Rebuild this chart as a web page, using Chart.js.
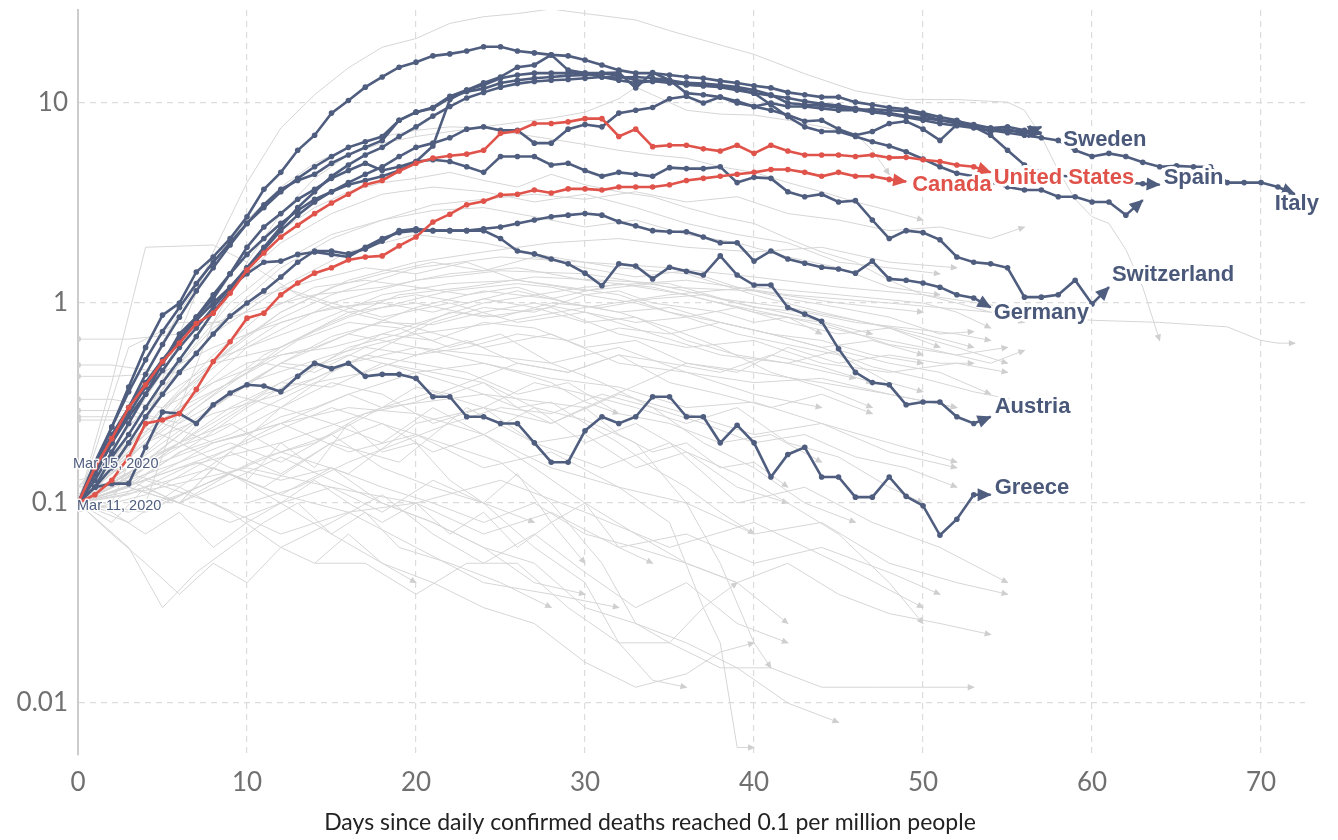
<!DOCTYPE html>
<html><head><meta charset="utf-8">
<script src="https://cdn.jsdelivr.net/npm/chart.js@4"></script>
<style>html,body{margin:0;padding:0;background:#fff}#wrap{width:1338px;height:840px}</style>
</head><body><div id="wrap"><canvas id="c" width="1338" height="840"></canvas></div>
<script>
// ---------- DATA ----------
const xTickValues = [0, 10, 20, 30, 40, 50, 60, 70];
const yTickValues = [0.01, 0.1, 1, 10];
const yTickLabels = ['0.01', '0.1', '1', '10'];
const xTitle = 'Days since daily confirmed deaths reached 0.1 per million people';
const startLabels = ['Mar 15, 2020', 'Mar 11, 2020'];
const startLabelValues = [0.157, 0.097];

// highlighted countries: value per day since threshold (day = index)
const unitedStates = [0.1,0.15,0.21,0.3,0.39,0.51,0.63,0.79,0.89,1.12, 1.46,1.78,2.14,2.45,2.8,3.16,3.5,3.9,4.1,4.57, 5.0,5.3,5.45,5.55,5.8,7.05,7.25,7.9,7.9,8.05, 8.35,8.35,6.8,7.4,6.05,6.15,6.15,5.9,5.75,6.15, 5.6,6.15,5.75,5.5,5.5,5.5,5.4,5.5,5.33,5.35, 5.2,5.1,4.9,4.8,4.5];
const canada = [0.1,0.11,0.13,0.17,0.25,0.26,0.28,0.37,0.51,0.64, 0.84,0.89,1.1,1.26,1.41,1.5,1.64,1.7,1.72,1.93, 2.14,2.54,2.78,3.1,3.23,3.47,3.5,3.67,3.55,3.72, 3.72,3.67,3.8,3.8,3.8,3.9,4.1,4.2,4.3,4.4, 4.5,4.65,4.65,4.5,4.3,4.5,4.3,4.3,4.15,4.05];
const spain = [0.1,0.15,0.24,0.38,0.6,0.87,1.0,1.43,1.7,2.1, 2.7,3.7,4.5,5.8,6.9,8.9,10.3,12,13.5,15.1, 16,17.2,17.6,18.2,19.1,19.1,18.2,17.8,17.4,17.2, 16.4,15.5,14.6,14.1,14.1,13.8,13.5,13.3,12.9,12.6, 12.2,11.9,11.3,11.0,10.7,10.7,10.1,9.8,9.5,9.3, 8.9,8.5,8.2,7.6,6.9,5.8,4.9,4.5,4.35,4.25, 4.15,4.05,4.0,3.95,3.9];
const italy = [0.1,0.12,0.17,0.22,0.3,0.4,0.52,0.68,0.9,1.15, 1.5,1.9,2.4,3.0,3.6,4.3,4.9,5.5,6.0,6.8, 7.6,8.6,9.6,10.6,11.3,12.0,12.5,12.8,13.0,13.1, 13.3,13.5,13.4,13.5,13.3,13.0,12.6,12.5,12.3,12.0, 11.6,11.0,10.0,9.8,9.7,9.5,9.3,9.0,8.8,8.5, 8.2,7.9,7.7,7.5,7.3,7.1,6.9,6.7,6.5,5.8, 5.4,5.6,5.4,5.05,4.8,4.85,4.8,4.8,4.0,4.0, 4.0,3.8,3.5];
const sweden = [0.1,0.14,0.2,0.27,0.35,0.46,0.6,0.75,0.95,1.2, 1.5,1.85,2.3,2.75,3.2,3.6,4.0,4.4,4.8,5.4, 6.0,6.3,6.7,7.4,7.6,7.3,7.3,6.3,6.3,7.4, 7.8,7.6,8.9,9.2,9.5,10.5,10.8,10.0,10.7,10.0, 9.6,10.0,9.6,9.6,9.4,9.2,9.2,9.3,9.2,9.1, 8.7,8.2,8.1,7.8,7.5,7.3,7.2,7.1];
const france = [0.1,0.13,0.18,0.25,0.35,0.5,0.7,0.85,1.05,1.4, 1.9,2.4,2.8,3.3,3.7,4.2,4.6,5.0,4.6,4.8, 5.1,6.1,10.4,11.6,12.6,13.5,15.1,15.5,17.4,14.6, 14.1,14.1,14.2,11.9,14.2,13.0,11.2,11.0,10.7,10.2, 9.6,9.2,8.7,8.1,8.2,7.4,6.9,7.2,7.9,8.1, 7.4,6.5,7.8,7.6,7.2,7.4,7.0,7.6];
const unitedKingdom = [0.1,0.14,0.2,0.3,0.44,0.62,0.85,1.15,1.5,1.95, 2.5,3.1,3.7,4.1,4.4,5.0,5.5,6.0,6.5,8.2, 9.0,9.5,10.8,11.6,12.3,13.3,13.8,14.1,14.1,14.1, 14.1,13.5,13.0,12.6,12.9,12.6,12.4,12.2,12.0,11.6, 11.2,10.9,10.6,10.2,9.9,9.7,9.4,9.1,8.9,8.6, 8.4,8.2,7.9,7.7,7.5,7.6,7.3,7.0];
const netherlands = [0.1,0.16,0.24,0.36,0.52,0.72,0.95,1.25,1.6,2.0, 2.5,3.0,3.6,4.2,4.8,5.4,6.0,6.4,6.8,8.2, 9.0,9.4,10.6,11.4,11.8,12.6,13.0,13.3,13.5,13.7, 13.8,14.1,13.7,13.0,12.8,13.0,12.3,12.2,12.1,11.8, 11.2,9.8,8.55,7.6,7.2,7.2,6.8,6.4,6.1,5.7, 5.25,4.8,4.45,4.3,4.0,3.8,3.67,3.67,3.4,3.4, 3.2,3.2,2.75,3.27];
const switzerland = [0.1,0.14,0.2,0.28,0.38,0.5,0.66,0.85,1.1,1.4, 1.75,2.1,2.5,2.9,3.3,3.6,3.9,4.1,4.3,4.6, 5.1,5.2,5.1,4.8,4.5,5.4,5.4,5.4,4.9,5.0, 4.6,4.3,4.5,4.4,4.3,4.75,4.7,4.7,4.8,4.0, 4.25,4.2,3.6,3.4,3.5,3.2,3.25,2.6,2.1,2.3, 2.25,2.07,1.7,1.6,1.57,1.5,1.07,1.07,1.1,1.3, 0.99,1.2];
const germany = [0.1,0.12,0.15,0.2,0.27,0.35,0.45,0.56,0.7,0.86, 1.0,1.15,1.35,1.6,1.82,1.82,1.76,1.86,2.04,2.3, 2.35,2.3,2.3,2.3,2.35,2.4,2.5,2.6,2.7,2.75, 2.8,2.75,2.55,2.43,2.3,2.27,2.27,2.14,2.0,2.0, 1.62,1.82,1.66,1.58,1.51,1.48,1.41,1.62,1.32,1.3, 1.26,1.2,1.1,1.06,0.95];
const austria = [0.1,0.15,0.22,0.3,0.4,0.52,0.66,0.82,1.0,1.2, 1.4,1.6,1.62,1.75,1.8,1.75,1.7,1.9,2.1,2.25, 2.3,2.3,2.3,2.3,2.3,2.1,1.82,1.76,1.66,1.57, 1.41,1.22,1.57,1.53,1.32,1.51,1.44,1.38,1.72,1.38, 1.23,1.23,0.95,0.88,0.81,0.59,0.45,0.40,0.39,0.31, 0.32,0.32,0.27,0.25,0.27];
const greece = [0.1,0.12,0.125,0.125,0.19,0.285,0.28,0.25,0.31,0.355, 0.39,0.385,0.36,0.43,0.5,0.47,0.5,0.43,0.44,0.44, 0.42,0.34,0.34,0.27,0.27,0.25,0.25,0.2,0.16,0.16, 0.23,0.27,0.25,0.27,0.34,0.34,0.27,0.27,0.2,0.245, 0.2,0.135,0.175,0.19,0.135,0.135,0.107,0.107,0.135,0.108, 0.097,0.069,0.083,0.11,0.11];

// other countries (grey): [day, value] readings
const grey01 = [[2,0.1],[4,0.25],[6,0.7],[8,1.8],[10,4],[12,7.5],[14,11],[16,15],[18,19],[20,21],[22,25],[24,27],[26,28],[28,29.5],[30,28],[33,26],[35,23],[38,19.5],[40,17.5],[43,14],[46,11.5],[49,10.4],[52,10.4],[55,10.1],[56,9.2],[57,6.8],[58,4.6],[59,3.3],[60,2.7],[61,2.5],[62,1.85],[63,1.2],[64,0.65]];
const grey02 = [[0,0.1],[3,0.2],[6,0.5],[9,1.0],[12,1.6],[15,2.2],[18,2.6],[21,2.9],[24,3.0],[27,2.7],[30,2.4],[33,2.6],[36,2.2],[39,2.0],[42,1.7],[45,1.5],[48,1.2],[51,1.1]];
const grey03 = [[0,0.12],[4,0.3],[8,0.7],[12,1.2],[16,1.8],[20,2.2],[24,2.0],[28,1.7],[32,1.5],[36,1.4],[40,1.1],[44,0.9],[48,0.75],[52,0.6],[55,0.5]];
const grey04 = [[0,0.1],[5,0.25],[10,0.6],[15,1.0],[20,1.3],[25,1.45],[30,1.4],[35,1.2],[40,1.15],[45,1.0],[50,0.9]];
const grey05 = [[0,0.13],[3,0.15],[7,0.3],[11,0.55],[15,0.8],[19,1.1],[23,1.2],[27,1.35],[31,1.3],[35,1.25],[39,1.0],[43,0.85],[47,0.7]];
const grey06 = [[0,0.1],[6,0.2],[12,0.4],[18,0.7],[24,1.0],[30,1.2],[36,1.3],[42,1.1],[48,1.0],[54,0.9],[60,0.82],[64,0.8],[68,0.76],[70,0.65],[71,0.63],[72,0.63]];
const grey07 = [[0,0.1],[2,0.15],[5,0.3],[8,0.55],[11,0.9],[14,1.2],[17,1.3],[20,1.2],[23,1.1],[26,1.2],[29,1.0],[32,0.9],[35,0.75],[38,0.6],[41,0.45],[44,0.38],[47,0.3]];
const grey08 = [[0,0.11],[4,0.2],[8,0.28],[12,0.35],[16,0.5],[20,0.6],[24,0.55],[28,0.5],[32,0.6],[36,0.45],[40,0.4],[44,0.42],[48,0.35],[52,0.3]];
const grey09 = [[0,0.1],[2,0.08],[4,0.12],[6,0.1],[8,0.15],[10,0.13],[12,0.2],[14,0.15],[16,0.25],[18,0.18],[20,0.2],[22,0.13],[24,0.1],[26,0.14],[28,0.08],[30,0.1],[32,0.06],[34,0.05]];
const grey10 = [[0,0.1],[4,0.15],[8,0.2],[12,0.25],[16,0.3],[20,0.28],[24,0.22],[28,0.15],[32,0.12],[35,0.08],[37,0.03],[38,0.02],[39,0.006],[40,0.006]];
const grey11 = [[0,0.1],[3,0.12],[6,0.18],[9,0.22],[12,0.3],[15,0.25],[18,0.2],[21,0.3],[24,0.22],[27,0.15],[30,0.1],[33,0.07],[36,0.05],[39,0.04],[42,0.025]];
const grey12 = [[14,0.05],[17,0.05],[20,0.035],[23,0.05],[26,0.05],[29,0.03],[32,0.02],[35,0.02],[38,0.015],[41,0.015],[44,0.012],[47,0.012],[50,0.012],[53,0.012]];
const grey13 = [[0,0.1],[3,0.14],[6,0.12],[9,0.18],[12,0.14],[15,0.2],[18,0.25],[21,0.18],[24,0.22],[27,0.3],[30,0.2],[33,0.25],[36,0.18],[39,0.14],[42,0.1],[45,0.07],[48,0.04],[50,0.025]];
const grey14 = [[0,0.1],[2,0.16],[5,0.4],[8,0.75],[11,1.1],[14,1.3],[17,1.5],[20,1.4],[23,1.6],[26,1.3],[29,1.2],[32,1.1],[35,0.9],[38,0.8],[41,0.7],[44,0.6],[47,0.48],[50,0.42],[53,0.36],[56,0.32],[58,0.28]];
const grey15 = [[0,0.12],[3,0.2],[6,0.35],[9,0.55],[12,0.8],[15,0.95],[18,1.0],[21,0.9],[24,1.05],[27,0.95],[30,0.8],[33,0.85],[36,0.65],[39,0.55],[42,0.5],[45,0.58],[48,0.5],[51,0.45],[54,0.35]];
const grey16 = [[0,0.09],[4,0.11],[8,0.17],[12,0.25],[16,0.35],[20,0.45],[24,0.5],[28,0.42],[32,0.38],[36,0.3],[40,0.32],[44,0.25],[48,0.2],[52,0.16]];
const grey17 = [[0,0.1],[3,0.25],[6,0.6],[9,1.2],[12,2.0],[15,2.8],[18,3.5],[21,3.8],[24,3.6],[27,3.2],[30,3.5],[33,3.0],[36,2.5],[39,2.2],[42,2.0],[45,1.6],[48,1.5],[51,1.4]];
const grey18 = [[0,0.1],[2,0.2],[4,0.45],[6,0.9],[8,1.6],[10,2.6],[12,3.8],[14,5.0],[16,6.0],[18,6.8],[20,7.3],[22,7.6],[24,7.5],[26,7.0],[28,6.6],[30,6.2],[32,5.8],[34,5.5],[36,5.3],[38,4.8],[40,4.5],[42,4.0],[44,3.6],[46,3.2],[48,2.9],[50,2.6]];
const grey19 = [[0,0.1],[5,0.12],[10,0.15],[15,0.12],[20,0.1],[25,0.13],[30,0.09],[35,0.06],[40,0.08],[45,0.05],[50,0.03]];
const grey20 = [[0,0.1],[3,0.13],[6,0.1],[9,0.08],[12,0.1],[15,0.07],[18,0.05],[21,0.04],[24,0.03],[27,0.025],[30,0.016],[33,0.012],[36,0.014],[38,0.018],[40,0.02]];
const grey21 = [[4,0.3],[8,0.5],[12,0.6],[16,0.9],[20,1.0],[24,0.85],[28,0.95],[32,0.7],[36,0.6],[40,0.65],[44,0.5],[48,0.45],[52,0.5],[55,0.45]];
const grey22 = [[0,0.43],[2,0.43],[6,0.45],[10,0.6],[14,0.8],[18,1.1],[22,1.25],[26,1.3],[30,1.15],[34,1.25],[38,1.05],[42,0.95],[46,0.82],[50,0.7],[53,0.6]];
const grey23 = [[0,0.66],[3,0.66],[6,0.7],[10,0.9],[14,1.1],[18,1.2],[22,1.4],[26,1.5],[30,1.3],[34,1.2],[38,1.0],[42,0.85],[46,0.7],[50,0.6],[54,0.5],[56,0.58]];
const grey24 = [[0,0.33],[2,0.33],[5,0.3],[8,0.4],[11,0.5],[14,0.45],[17,0.6],[20,0.55],[23,0.65],[26,0.5],[29,0.45],[32,0.55],[35,0.4],[38,0.35],[41,0.3],[44,0.35],[47,0.28]];
const grey25 = [[0,0.29],[3,0.29],[6,0.25],[9,0.35],[12,0.3],[15,0.4],[18,0.35],[21,0.25],[24,0.3],[27,0.2],[30,0.22],[33,0.15],[36,0.18],[39,0.12],[42,0.1]];
const grey26 = [[0,0.49],[2,0.49],[5,0.45],[8,0.6],[11,0.75],[14,0.9],[17,1.0],[20,1.1],[23,1.0],[26,1.15],[29,1.0],[32,0.9],[35,0.95],[38,0.8],[41,0.7],[44,0.65],[47,0.55],[50,0.5]];
const grey27 = [[0,0.27],[4,0.27],[8,0.2],[12,0.25],[16,0.18],[20,0.22],[24,0.15],[28,0.18],[32,0.12],[36,0.1],[40,0.07],[44,0.08],[48,0.05],[52,0.04],[55,0.035]];
const grey28 = [[0,0.1],[2,0.14],[4,0.2],[7,0.3],[10,0.45],[13,0.65],[16,0.8],[19,0.75],[22,0.6],[25,0.7],[28,0.5],[31,0.4],[34,0.3],[37,0.2],[40,0.15],[43,0.1],[46,0.08]];
const grey29 = [[0,0.1],[3,0.11],[7,0.16],[11,0.12],[15,0.2],[19,0.16],[23,0.3],[27,0.2],[31,0.15],[35,0.2],[39,0.1],[43,0.12],[47,0.08],[51,0.06],[55,0.04]];
const grey30 = [[0,0.1],[3,0.15],[6,0.2],[9,0.25],[12,0.18],[15,0.22],[18,0.15],[21,0.12],[24,0.1],[27,0.08]];
const grey31 = [[0,0.1],[4,0.13],[8,0.1],[12,0.07],[16,0.09],[20,0.06],[24,0.04],[28,0.035],[32,0.03]];
const grey32 = [[0,0.1],[5,0.2],[10,0.4],[15,0.55],[20,0.7],[25,0.8],[30,0.95],[35,1.1],[40,1.2],[45,1.1],[50,1.0],[52,0.9],[54,0.75]];
const grey33 = [[0,0.15],[3,0.2],[6,0.3],[9,0.4],[12,0.55],[15,0.6],[18,0.7],[21,0.65],[24,0.8],[27,0.75],[30,0.6],[33,0.65],[36,0.5],[39,0.45],[42,0.6],[45,0.5],[48,0.55],[51,0.5],[53,0.5]];
const grey34 = [[0,0.1],[2,0.13],[5,0.17],[8,0.24],[11,0.35],[14,0.42],[17,0.55],[20,0.5],[23,0.45],[26,0.35],[29,0.4],[32,0.28],[35,0.25],[38,0.2],[41,0.22],[44,0.16]];
const grey35 = [[8,1.0],[10,1.5],[12,2.3],[14,3.0],[16,3.6],[18,4.0],[20,4.2],[22,4.5],[24,4.1],[26,3.8],[28,4.4],[30,3.9],[32,3.6],[34,3.4],[36,3.0],[38,2.7],[40,2.5],[42,2.1],[44,1.8],[46,1.6],[48,1.3],[50,1.1],[52,1.0],[54,0.9],[56,0.8]];
const grey36 = [[0,0.1],[4,0.2],[8,0.5],[12,0.9],[16,1.3],[20,1.6],[24,1.8],[28,2.0],[32,2.1],[36,1.9],[40,1.8],[44,1.9],[48,1.6],[52,1.5]];
const grey37 = [[0,0.1],[6,0.15],[12,0.2],[18,0.3],[24,0.35],[30,0.3],[36,0.5],[40,0.45],[44,0.4],[48,0.35],[52,0.3]];
const grey38 = [[0,0.1],[3,0.12],[6,0.1],[9,0.14],[12,0.11],[15,0.15],[18,0.12],[21,0.1],[24,0.08],[27,0.1],[30,0.07],[33,0.06],[36,0.05],[39,0.04],[42,0.05],[45,0.035],[48,0.028],[51,0.025],[54,0.022]];
const grey39 = [[0,0.1],[2,0.12],[4,0.15],[6,0.2],[8,0.3],[10,0.4],[12,0.5],[14,0.48],[16,0.55],[18,0.5],[20,0.45],[22,0.4],[24,0.35],[26,0.3],[28,0.32],[30,0.25],[32,0.2],[34,0.15],[36,0.12],[38,0.09],[40,0.07]];
const grey40 = [[0,0.26],[3,0.26],[6,0.2],[9,0.15],[12,0.13],[15,0.15],[18,0.1],[21,0.08],[24,0.06],[27,0.05],[30,0.03],[33,0.025],[36,0.02],[39,0.015],[42,0.01],[45,0.008]];
const grey41 = [[4,0.1],[6,0.3],[8,0.8],[10,1.6],[12,2.8],[14,4.2],[16,5.5],[18,6.3],[20,6.8],[22,7.2],[24,7.6],[26,8.0],[28,8.4],[30,9.0],[32,10.5],[33,12],[34,11],[36,9.2],[38,8.8],[40,8.7],[42,8.2],[44,7.6],[46,7.0],[47,5.8],[48,4.4]];
const grey42 = [[0,0.1],[3,0.2],[6,0.45],[9,0.9],[12,1.5],[15,2.1],[18,2.6],[21,3.1],[24,3.3],[27,3.5],[30,3.3],[33,3.6],[36,3.2],[39,3.4],[42,2.8],[45,2.6],[48,2.3],[51,2.4],[54,2.1],[56,2.4]];
const grey43 = [[0,0.1],[2,0.4],[4,1.9],[8,1.95],[10,1.6],[13,1.1],[16,0.9],[20,0.75],[24,0.6],[28,0.7],[32,0.5],[36,0.45],[40,0.35],[44,0.3]];
const grey44 = [[0,0.1],[3,0.6],[6,0.8],[9,0.8],[12,1.2],[15,1.0],[18,0.85],[22,1.0],[26,0.8],[30,0.9],[34,0.7],[38,0.55],[42,0.5],[46,0.42]];
const grey45 = [[0,0.1],[2,0.12],[5,0.18],[8,0.22],[11,0.3],[14,0.4],[17,0.45],[20,0.55],[23,0.6],[26,0.7],[29,0.65],[32,0.75],[35,0.7],[38,0.8],[41,0.7],[44,0.6],[47,0.65],[50,0.55]];
const grey46 = [[0,0.1],[4,0.09],[8,0.13],[12,0.18],[16,0.14],[20,0.25],[24,0.3],[28,0.25],[32,0.35],[36,0.28],[40,0.22],[44,0.25],[48,0.18],[52,0.15]];
const grey47 = [[0,0.1],[3,0.08],[6,0.12],[9,0.09],[12,0.06],[15,0.08],[18,0.11],[21,0.07],[24,0.05],[27,0.07],[30,0.045],[33,0.03],[36,0.04],[39,0.025],[42,0.02]];
const grey48 = [[0,0.1],[2,0.11],[4,0.14],[7,0.2],[10,0.3],[13,0.42],[16,0.6],[19,0.7],[22,0.9],[25,0.85],[28,1.0],[31,0.95],[34,1.05],[37,1.1],[40,0.95],[43,0.9],[46,0.8],[49,0.75],[52,0.7],[54,0.65]];
const grey49 = [[0,0.12],[3,0.13],[6,0.16],[9,0.2],[12,0.16],[15,0.22],[18,0.3],[21,0.36],[24,0.3],[27,0.4],[30,0.35],[33,0.3],[36,0.25],[39,0.3],[42,0.2],[45,0.17],[48,0.12],[50,0.1]];
const grey50 = [[0,0.1],[5,0.14],[10,0.2],[15,0.3],[20,0.22],[25,0.16],[28,0.1],[31,0.05],[33,0.025],[35,0.02],[37,0.03],[39,0.04]];
const grey51 = [[0,0.1],[2,0.15],[4,0.22],[6,0.3],[8,0.4],[10,0.5],[12,0.55],[14,0.6],[16,0.7],[18,0.65],[20,0.6],[22,0.55],[24,0.5],[26,0.45],[28,0.4],[30,0.32],[32,0.28]];
const grey52 = [[0,0.1],[3,0.13],[6,0.2],[9,0.3],[12,0.4],[15,0.38],[18,0.5],[21,0.45],[24,0.4],[27,0.3],[30,0.26],[33,0.2],[36,0.1],[38,0.05],[40,0.02],[41,0.015]];
const grey53 = [[5,0.1],[8,0.13],[11,0.17],[14,0.2],[17,0.28],[20,0.32],[23,0.4],[26,0.5],[29,0.45],[32,0.55],[35,0.5],[38,0.45],[41,0.55],[44,0.48],[47,0.4]];
const grey54 = [[0,0.1],[3,0.09],[6,0.11],[9,0.14],[12,0.1],[15,0.12],[18,0.09],[21,0.13],[24,0.1],[27,0.06],[30,0.04],[32,0.02],[34,0.013],[36,0.012]];
const grey55 = [[0,0.1],[4,0.12],[8,0.15],[12,0.11],[16,0.09],[20,0.1],[24,0.07],[28,0.09],[32,0.06],[36,0.07],[40,0.05],[44,0.06],[48,0.045],[51,0.035]];
const grey56 = [[0,0.11],[2,0.14],[4,0.2],[6,0.28],[8,0.36],[10,0.45],[12,0.6],[14,0.72],[16,0.85],[18,0.95],[20,1.05],[22,1.15],[24,1.2],[26,1.25],[28,1.2],[30,1.1],[32,1.15],[34,1.0],[36,0.95],[38,0.9],[40,0.8],[42,0.85],[44,0.7]];
const grey57 = [[0,0.1],[3,0.12],[6,0.1],[9,0.13],[12,0.17],[15,0.13],[18,0.1],[21,0.08],[24,0.06],[27,0.04],[30,0.035]];
const grey58 = [[0,0.1],[5,0.3],[10,0.7],[15,1.1],[20,1.5],[25,1.7],[30,1.6],[35,1.5],[40,1.35],[45,1.2],[50,1.1],[55,0.95],[58,0.9]];
const grey59 = [[0,0.1],[2,0.1],[4,0.13],[6,0.16],[8,0.2],[10,0.22],[12,0.27],[14,0.3],[16,0.35],[18,0.3],[20,0.38],[22,0.35],[24,0.4],[26,0.3],[28,0.25],[30,0.3],[32,0.22],[34,0.18],[36,0.2],[38,0.15],[40,0.16],[42,0.12]];
const grey60 = [[10,0.1],[13,0.12],[16,0.16],[19,0.2],[22,0.25],[25,0.3],[28,0.28],[31,0.35],[34,0.3],[37,0.25],[40,0.2],[43,0.22],[46,0.17],[49,0.15],[52,0.12]];
const grey61 = [[0,0.1],[2,0.07],[4,0.05],[6,0.035],[8,0.05],[10,0.04],[12,0.06],[14,0.05],[16,0.07],[18,0.05],[20,0.04]];
const grey62 = [[0,0.1],[3,0.06],[5,0.03],[7,0.045],[9,0.06],[11,0.08],[13,0.1],[15,0.07],[17,0.09],[19,0.06],[22,0.05],[25,0.04],[28,0.03]];
const grey63 = [[0,0.1],[2,0.09],[4,0.07],[6,0.09],[8,0.06],[10,0.08],[12,0.1],[14,0.13],[16,0.1],[18,0.08],[20,0.1],[22,0.07],[24,0.09],[26,0.06],[28,0.08],[30,0.05]];
const grey64 = [[0,0.1],[3,0.18],[6,0.35],[9,0.6],[12,0.9],[15,1.2],[18,1.4],[21,1.6],[24,1.45],[27,1.7],[30,1.5],[33,1.35],[36,1.45],[39,1.2],[42,1.05],[45,0.95],[48,0.85],[51,0.7],[53,0.72]];
const grey65 = [[0,0.1],[4,0.16],[8,0.3],[12,0.5],[16,0.7],[20,0.95],[24,1.15],[28,1.05],[32,1.25],[36,1.1],[40,0.9],[44,0.8],[48,0.62],[52,0.55],[55,0.6]];
const grey66 = [[0,0.1],[3,0.14],[6,0.22],[9,0.35],[12,0.5],[15,0.68],[18,0.8],[21,0.78],[24,0.9],[27,1.0],[30,0.9],[33,0.8],[36,0.85],[39,0.7],[42,0.62],[45,0.55],[48,0.4],[50,0.36]];
const grey67 = [[6,0.1],[9,0.18],[12,0.3],[15,0.45],[18,0.6],[21,0.8],[24,0.95],[27,0.9],[30,1.1],[33,1.0],[36,0.85],[39,0.95],[42,0.8],[45,0.7],[48,0.75],[51,0.6]];

const greyLines = [grey01,grey02,grey03,grey04,grey05,grey06,grey07,grey08,grey09,grey10,grey11,grey12,grey13,grey14,grey15,grey16,grey17,grey18,grey19,grey20,grey21,grey22,grey23,grey24,grey25,grey26,grey27,grey28,grey29,grey30,grey31,grey32,grey33,grey34,grey35,grey36,grey37,grey38,grey39,grey40,grey41,grey42,grey43,grey44,grey45,grey46,grey47,grey48,grey49,grey50,grey51,grey52,grey53,grey54,grey55,grey56,grey57,grey58,grey59,grey60,grey61,grey62,grey63,grey64,grey65,grey66,grey67];

const redNames = ['United States', 'Canada'];
const redSeries = [unitedStates, canada];
const blueNames = ['Sweden', 'Spain', 'Italy', '', '', '', 'Switzerland', 'Germany', 'Austria', 'Greece'];
const blueSeries = [sweden, spain, italy, france, unitedKingdom, netherlands, switzerland, germany, austria, greece];

// ---------- STYLE ----------
const BLUE = '#4f5d7f', RED = '#e0534b', GREY = '#d6d6d6';
const labelLayout = {
  'Sweden': {dx: 22, dy: 7},
  'United States': {dx: 3, dy: 6},
  'Canada': {dx: 6, dy: 3},
  'Spain': {dx: 4, dy: -7},
  'Italy': {dx: 2, dy: 10, align: 'center'},
  'Switzerland': {dx: 3, dy: -12},
  'Germany': {dx: 3, dy: 5},
  'Austria': {dx: 4, dy: -10},
  'Greece': {dx: 4, dy: -7}
};

const toPts = arr => arr.map((v, i) => ({x: i, y: v}));
const datasets = [];
redSeries.forEach((s, k) => datasets.push({kind: 'hl', name: redNames[k], data: toPts(s), borderColor: RED, backgroundColor: RED, order: 0}));
blueSeries.forEach((s, k) => datasets.push({kind: 'hl', name: blueNames[k], data: toPts(s), borderColor: BLUE, backgroundColor: BLUE, order: 1}));
greyLines.forEach(g => datasets.push({kind: 'grey', name: '', data: g.map(p => ({x: p[0], y: p[1]})), borderColor: GREY, backgroundColor: '#d0d0d0', order: 2}));

datasets.forEach(d => {
  d.fill = false; d.tension = 0;
  if (d.kind === 'hl') {
    d.borderWidth = 2.6;
    d.pointRadius = ctx => ctx.dataIndex === ctx.dataset.data.length - 1 ? 0 : 2.8;
    d.pointBorderWidth = 0;
    d.pointBackgroundColor = d.borderColor;
  } else {
    d.borderWidth = 1;
    d.pointRadius = ctx => (ctx.dataIndex === 0 && ctx.dataset.data[0].x === 0 && ctx.dataset.data[0].y > 0.2) ? 3 : 0;
    d.pointBorderWidth = 0;
    d.pointBackgroundColor = '#d0d0d0';
  }
  d.pointHoverRadius = 0;
});

const arrowPlugin = {
  id: 'arrows',
  afterDatasetDraw(chart, args) {
    const ds = chart.data.datasets[args.index];
    const pts = args.meta.data;
    if (!pts || pts.length < 2) return;
    const p1 = pts[pts.length - 1], p0 = pts[pts.length - 2];
    const ang = Math.atan2(p1.y - p0.y, p1.x - p0.x);
    const grey = ds.kind === 'grey';
    const L = grey ? 7 : 14, W = grey ? 3.2 : 6.5;
    const ctx = chart.ctx;
    ctx.save();
    ctx.translate(p1.x, p1.y);
    ctx.rotate(ang);
    ctx.beginPath();
    ctx.moveTo(1, 0); ctx.lineTo(1 - L, -W); ctx.lineTo(1 - L, W); ctx.closePath();
    ctx.fillStyle = grey ? '#cfcfcf' : ds.borderColor;
    ctx.fill();
    ctx.restore();
  },
  afterDatasetsDraw(chart) {
    const ctx = chart.ctx;
    ctx.save();
    ctx.font = 'bold 22px "Liberation Sans", Arial, sans-serif';
    ctx.textBaseline = 'middle';
    ctx.lineJoin = 'round';
    chart.data.datasets.forEach((ds, i) => {
      if (ds.kind !== 'hl' || !ds.name) return;
      const pts = chart.getDatasetMeta(i).data;
      const p = pts[pts.length - 1];
      const lay = labelLayout[ds.name] || {dx: 4, dy: 0};
      ctx.textAlign = lay.align || 'left';
      const x = p.x + lay.dx, y = p.y + lay.dy;
      ctx.strokeStyle = '#fff'; ctx.lineWidth = 6;
      ctx.strokeText(ds.name, x, y);
      ctx.fillStyle = ds.borderColor === RED ? RED : '#4a587a';
      ctx.fillText(ds.name, x, y);
    });
    // start date annotations
    const xs = chart.scales.x, ys = chart.scales.y;
    ctx.font = '14.5px "Liberation Sans", Arial, sans-serif';
    ctx.textAlign = 'left';
    startLabels.forEach((t, k) => {
      const x = xs.getPixelForValue(0) - 5 + k * 4, y = ys.getPixelForValue(startLabelValues[k]);
      ctx.strokeStyle = 'rgba(255,255,255,0.9)'; ctx.lineWidth = 3;
      ctx.strokeText(t, x, y);
      ctx.fillStyle = '#4f5d7f';
      ctx.fillText(t, x, y);
    });
    // axis title
    ctx.font = '23px Lato, "Noto Sans", sans-serif';
    ctx.textAlign = 'center';
    ctx.fillStyle = '#222';
    ctx.fillText(xTitle, 650, 823);
    ctx.restore();
  }
};

new Chart(document.getElementById('c'), {
  type: 'line',
  data: {datasets},
  options: {
    responsive: false, animation: false, devicePixelRatio: 1,
    layout: {padding: {left: 0, right: 33, top: 10, bottom: 0}},
    plugins: {legend: {display: false}, tooltip: {enabled: false}},
    events: [],
    scales: {
      x: {
        type: 'linear', min: 0, max: 72.6,
        afterBuildTicks: s => { s.ticks = xTickValues.map(v => ({value: v})); },
        afterFit: s => { s.height = 85; s.paddingLeft = 0; s.paddingRight = 0; },
        grid: {color: '#dcdcdc', lineWidth: 1.2, drawTicks: false},
        border: {display: false, dash: [6, 5]},
        ticks: {autoSkip: false, maxRotation: 0, font: {family: 'Lato', size: 26}, color: '#707070', padding: 12, callback: v => String(v)}
      },
      y: {
        type: 'logarithmic', min: 0.0055, max: 29.17,
        afterBuildTicks: s => { s.ticks = yTickValues.map(v => ({value: v})); },
        afterFit: s => { s.width = 78; s.paddingTop = 0; s.paddingBottom = 0; },
        grid: {color: '#dcdcdc', lineWidth: 1.2, drawTicks: false},
        border: {display: true, color: '#cccccc', width: 2, dash: [6, 5]},
        ticks: {autoSkip: false, font: {family: 'Lato', size: 26}, color: '#707070', padding: 10, callback: (v, i) => yTickLabels[i]}
      }
    }
  },
  plugins: [arrowPlugin]
});
</script></body></html>
